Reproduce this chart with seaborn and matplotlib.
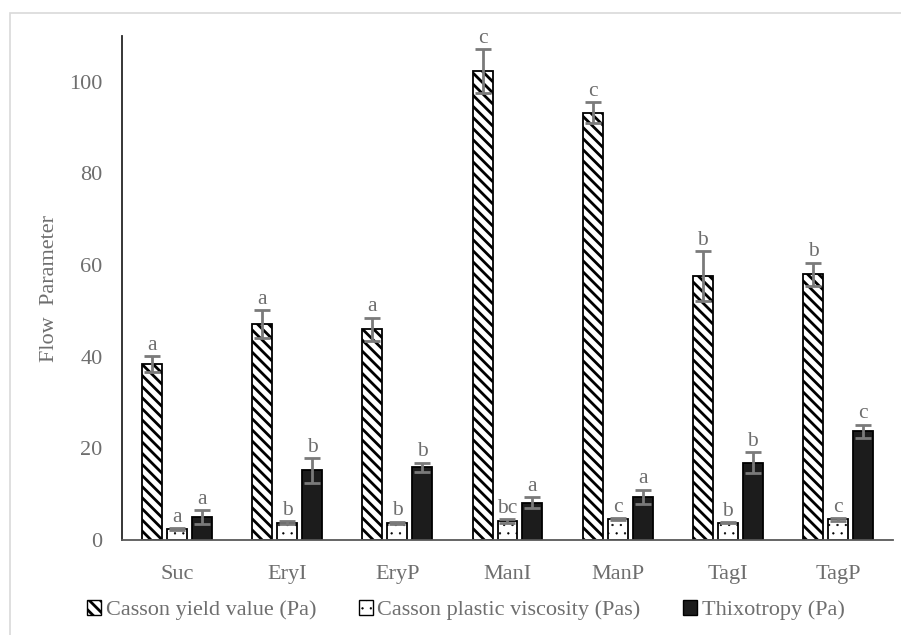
import pandas as pd
import seaborn as sns
import matplotlib.pyplot as plt
from matplotlib.patches import Patch, Rectangle

# Dados
samples = ["Suc", "EryI", "EryP", "ManI", "ManP", "TagI", "TagP"]
params = ["Casson yield value (Pa)", "Casson plastic viscosity (Pas)", "Thixotropy (Pa)"]

yield_val = [38.4, 47.1, 46.0, 102.3, 93.3, 57.6, 58.0]
yield_err = [1.7, 3.1, 2.5, 4.8, 2.2, 5.4, 2.5]
visc_val = [2.4, 3.8, 3.7, 4.1, 4.5, 3.8, 4.5]
visc_err = [0.2, 0.3, 0.3, 0.4, 0.2, 0.1, 0.3]
thix_val = [5.0, 15.2, 15.9, 8.1, 9.4, 16.9, 23.7]
thix_err = [1.5, 2.7, 1.0, 1.2, 1.6, 2.2, 1.5]

yield_let = ["a", "a", "a", "c", "c", "b", "b"]
visc_let = ["a", "b", "b", "bc", "c", "b", "c"]
thix_let = ["a", "b", "b", "a", "a", "b", "c"]

values = [yield_val, visc_val, thix_val]
errors = [yield_err, visc_err, thix_err]
letters = [yield_let, visc_let, thix_let]

df = pd.DataFrame({
    "sample": samples * 3,
    "param": [p for p in params for _ in samples],
    "value": yield_val + visc_val + thix_val,
})

sns.set_style("white")
plt.rcParams["font.family"] = ["Liberation Serif", "DejaVu Serif"]
plt.rcParams["hatch.linewidth"] = 2.0

gray = "#6e6e6e"
fills = ["white", "white", "#1c1c1c"]
hatches = ["\\\\\\", "..", ""]


def thin_hatch(artist, lw=0.4):
    # pontos finos: espessura da hachura só para este artista
    if hasattr(artist, "set_hatch_linewidth"):
        artist.set_hatch_linewidth(lw)
    orig = artist.draw

    def draw(renderer):
        with plt.rc_context({"hatch.linewidth": lw}):
            orig(renderer)
    artist.draw = draw


fig = plt.figure(figsize=(9.01, 6.35), dpi=100)
ax = fig.add_axes([0.1354, 0.1496, 0.8557, 0.7937])

sns.barplot(
    data=df, x="sample", y="value", hue="param",
    hue_order=params, order=samples,
    palette=dict(zip(params, fills)), saturation=1,
    width=0.68, gap=0.2, edgecolor="black", linewidth=1.3,
    errorbar=None, legend=False, ax=ax,
)

# Hachuras, barras de erro e letras
bar_conts = list(ax.containers)
for i, cont in enumerate(bar_conts):
    xs = []
    for p in cont.patches:
        p.set_hatch(hatches[i])
        if i == 1:
            thin_hatch(p)
        xs.append(p.get_x() + p.get_width() / 2)
    ax.errorbar(xs, values[i], yerr=errors[i], fmt="none", ecolor="#7a7a7a",
                elinewidth=2, capsize=6, capthick=2, zorder=4)
    for x, v, e, t in zip(xs, values[i], errors[i], letters[i]):
        ax.text(x, v + e + 0.3, t, ha="center", va="bottom", color=gray, fontsize=15.5)

ax.set_xlim(-0.5, len(samples) - 0.5)
ax.set_ylim(0, 110)
ax.set_yticks(range(0, 101, 20))
ax.set_xlabel("")
ax.set_ylabel("Flow  Parameter", color=gray, fontsize=16)
ax.yaxis.set_label_coords(-0.082, 0.5)
ax.tick_params(axis="both", length=0, labelsize=16, labelcolor=gray)
ax.tick_params(axis="y", pad=14)
ax.tick_params(axis="x", pad=18)

sns.despine(ax=ax)
ax.spines["left"].set_color("#262626")
ax.spines["left"].set_linewidth(1.3)
ax.spines["bottom"].set_color("#595959")
ax.spines["bottom"].set_linewidth(1.3)

handles = [Patch(facecolor=fills[i], edgecolor="black", hatch=hatches[i], label=params[i])
           for i in range(3)]
leg = fig.legend(handles=handles, loc="center", bbox_to_anchor=(0.517, 0.039), ncol=3,
                 frameon=False, fontsize=16, labelcolor=gray, handlelength=0.65,
                 handleheight=0.65, handletextpad=0.2, columnspacing=1.9)
thin_hatch(leg.legend_handles[1])

# Borda clara do gráfico
fig.add_artist(Rectangle((10 / 901, -0.05), 1.1, (635 - 13) / 635 + 0.05,
                         transform=fig.transFigure, fill=False,
                         edgecolor="#d9d9d9", linewidth=1.2))

plt.savefig("out.png", dpi=100)
